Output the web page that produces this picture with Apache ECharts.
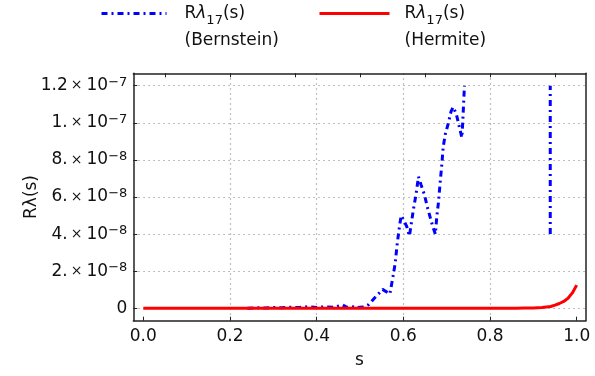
<!DOCTYPE html>
<html><head><meta charset="utf-8">
<script src="https://cdn.jsdelivr.net/npm/echarts@6/dist/echarts.min.js"></script>
<style>html,body{margin:0;padding:0;background:#fff}#c{width:595px;height:376px}</style>
</head><body><div id="c"></div>
<script>
// ---- data ----
const hermiteS = [0, 0.1, 0.2, 0.3, 0.4, 0.5, 0.6, 0.7, 0.8, 0.86, 0.88, 0.9, 0.92, 0.94, 0.95, 0.96, 0.97, 0.98, 0.99, 1.0];
const hermiteV = [0, 0, 0, 0, 0, 0, 0, 0, 0, 0, 0.1e-9, 0.2e-9, 0.4e-9, 1.0e-9, 1.7e-9, 2.6e-9, 3.7e-9, 5.4e-9, 8.3e-9, 1.25e-8];

const bernS = [0.24, 0.26, 0.28, 0.30, 0.32, 0.34, 0.36, 0.38, 0.40, 0.42, 0.44, 0.46, 0.47, 0.48, 0.49, 0.50, 0.51, 0.52,
  0.531, 0.545, 0.552, 0.569, 0.576, 0.581, 0.586, 0.591, 0.595, 0.600, 0.608, 0.614, 0.618, 0.623, 0.629, 0.635,
  0.641, 0.649, 0.655, 0.662, 0.668, 0.674, 0.677, 0.681, 0.685, 0.689, 0.692, 0.697, 0.704, 0.710, 0.715, 0.722,
  0.727, 0.735, 0.737, 0.739, 0.741,
  0.84,
  0.939, 0.939];
const bernV = [0, 0.3e-9, 0.2e-9, 0.4e-9, 0.3e-9, 0.6e-9, 0.4e-9, 0.9e-9, 0.5e-9, 0.8e-9, 0.6e-9, 1.8e-9, 0.5e-9, 1.2e-9, 0.3e-9, 0.6e-9, 0.8e-9, 2.0e-9,
  4.9e-9, 8.4e-9, 1.02e-8, 7.7e-9, 1.7e-8, 2.4e-8, 3.5e-8, 4.4e-8, 5.0e-8, 4.8e-8, 4.4e-8, 3.9e-8, 4.5e-8, 5.3e-8, 6.1e-8, 7.1e-8,
  6.65e-8, 6.1e-8, 5.5e-8, 4.9e-8, 4.4e-8, 4.0e-8, 4.9e-8, 5.7e-8, 6.8e-8, 7.8e-8, 8.7e-8, 9.4e-8, 1.0e-7, 1.06e-7, 1.085e-7, 1.05e-7,
  1.0e-7, 9.2e-8, 1.0e-7, 1.1e-7, 1.2e-7,
  null,
  4.0e-8, 1.2e-7];

const xTicks = [0, 0.2, 0.4, 0.6, 0.8, 1.0];
const xTickLabels = ['0.0', '0.2', '0.4', '0.6', '0.8', '1.0'];
const xGridValues = [0.2, 0.4, 0.6, 0.8];
const xTopTicks = [0.05, 0.2, 0.35, 0.5, 0.65, 0.8, 0.95];
const yTicks = [0, 2e-8, 4e-8, 6e-8, 8e-8, 1e-7, 1.2e-7];
const yMant = ['0', '2.', '4.', '6.', '8.', '1.', '1.2'];
const yExp = ['', '\u22128', '\u22128', '\u22128', '\u22128', '\u22127', '\u22127'];
const seriesNames = ['Bernstein', 'Hermite'];

// ---- chart ----
const FONT = 'DejaVu Sans';
const X_MIN = -0.0231, X_MAX = 1.0208;
const Y_MIN = -6.68e-9, Y_MAX = 1.267e-7;

function pairs(xs, ys) { return xs.map((x, i) => [x, ys[i] === null ? '-' : ys[i]]); }

const legendRich = {
  a: { fontFamily: FONT, fontSize: 17, lineHeight: 27, color: '#111' },
  l: { fontFamily: FONT, fontSize: 17, lineHeight: 27, fontStyle: 'italic', color: '#111' },
  sub: { fontFamily: FONT, fontSize: 13, lineHeight: 21, verticalAlign: 'bottom', color: '#111' }
};
function legendFmt(name) {
  return '{a|R}{l|\u03bb}{sub|17}{a|(s)}\n{a|(' + name + ')}';
}
const frameLine = { show: true, onZero: false, lineStyle: { color: '#222', width: 1.5 } };
const gridDot = { color: '#aaa', type: [1.5, 3.5], width: 1.2 };

const chart = echarts.init(document.getElementById('c'));
chart.setOption({
  animation: false,
  backgroundColor: '#fff',
  grid: { left: 133.3, right: 9.3, top: 73.3, bottom: 55.3, show: false },
  legend: [
    { data: [seriesNames[0]], left: 95, top: 0, itemWidth: 65, itemHeight: 14, selectedMode: false,
      formatter: legendFmt, textStyle: { padding: [27, 0, 0, 13], rich: legendRich },
      itemStyle: { opacity: 0 },
      lineStyle: { width: 3, type: [6, 4, 2, 4], cap: 'butt' } },
    { data: [seriesNames[1]], left: 313, top: 0, itemWidth: 70, itemHeight: 14, selectedMode: false,
      formatter: legendFmt, textStyle: { padding: [27, 0, 0, 10], rich: legendRich },
      itemStyle: { opacity: 0 },
      lineStyle: { width: 3 } }
  ],
  xAxis: [
    { type: 'value', min: X_MIN, max: X_MAX, position: 'bottom',
      name: 's', nameLocation: 'middle', nameGap: 31, nameMoveOverlap: false,
      nameTextStyle: { fontFamily: FONT, fontSize: 17, color: '#111' },
      axisLine: frameLine,
      axisTick: { show: true, inside: true, length: 4, customValues: xTicks, lineStyle: { color: '#222' } },
      axisLabel: { customValues: xTicks, margin: 7, fontFamily: FONT, fontSize: 17, color: '#111',
        formatter: v => { const i = xTicks.findIndex(t => Math.abs(t - v) < 1e-9); return i >= 0 ? xTickLabels[i] : ''; } },
      splitLine: { show: false } },
    { type: 'value', min: X_MIN, max: X_MAX, position: 'top',
      axisLine: frameLine,
      axisTick: { show: true, inside: true, length: 4, customValues: xTopTicks, lineStyle: { color: '#222' } },
      axisLabel: { show: false, customValues: xTopTicks },
      splitLine: { show: false } },
    { type: 'value', min: X_MIN, max: X_MAX, position: 'top',
      axisLine: { show: false },
      axisTick: { show: false, customValues: xGridValues },
      axisLabel: { show: false, customValues: xGridValues },
      splitLine: { show: true, lineStyle: gridDot } }
  ],
  yAxis: [
    { type: 'value', min: Y_MIN, max: Y_MAX, position: 'left',
      name: 'R\u03bb(s)', nameLocation: 'middle', nameGap: 93, nameRotate: 90, nameMoveOverlap: false,
      nameTextStyle: { fontFamily: FONT, fontSize: 17, color: '#111' },
      axisLine: frameLine,
      axisTick: { show: true, inside: true, length: 4, customValues: yTicks, lineStyle: { color: '#222' } },
      axisLabel: { customValues: yTicks, margin: 6,
        formatter: v => {
          const i = yTicks.findIndex(t => Math.abs(t - v) < 1e-12);
          if (i < 0) return '';
          if (!yExp[i]) return '{m|' + yMant[i] + '}';
          return '{m|' + yMant[i] + '}{x|\u00d7}{m|10}{s|' + yExp[i] + '}';
        },
        rich: {
          m: { fontFamily: FONT, fontSize: 17, lineHeight: 20, color: '#111' },
          x: { fontFamily: FONT, fontSize: 14, lineHeight: 20, color: '#111', padding: [0, 4, 0, 3] },
          s: { fontFamily: FONT, fontSize: 13, lineHeight: 12, verticalAlign: 'top', color: '#111' }
        } },
      splitLine: { show: true, lineStyle: gridDot } },
    { type: 'value', min: Y_MIN, max: Y_MAX, position: 'right',
      axisLine: frameLine,
      axisTick: { show: false }, axisLabel: { show: false }, splitLine: { show: false } }
  ],
  series: [
    { name: seriesNames[0], type: 'line', data: pairs(bernS, bernV), showSymbol: false, symbol: 'none',
      connectNulls: false, clip: true, color: '#0000ff', z: 2,
      lineStyle: { color: '#0000ff', width: 3, type: [6, 4, 2, 4], cap: 'butt' } },
    { name: seriesNames[1], type: 'line', data: pairs(hermiteS, hermiteV), showSymbol: false, symbol: 'none',
      clip: true, color: '#ff0000', z: 3,
      lineStyle: { color: '#ff0000', width: 3 } }
  ]
});
</script></body></html>
